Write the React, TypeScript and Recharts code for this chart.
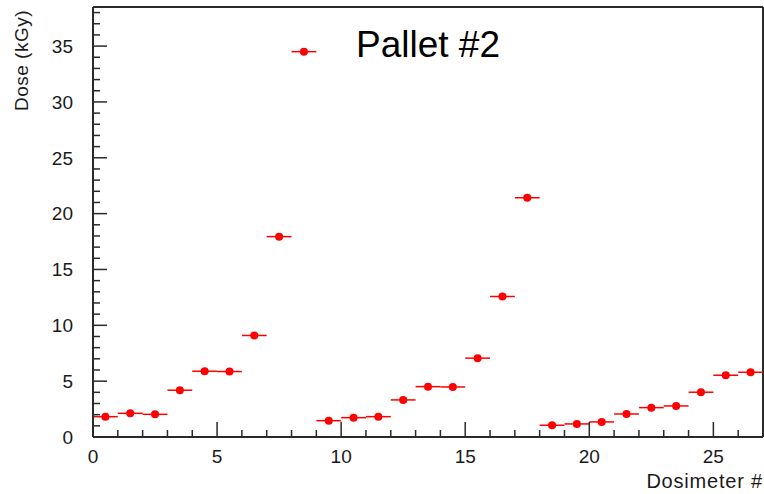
import React from 'react';
import { ScatterChart, Scatter, XAxis, YAxis, ErrorBar, ReferenceLine } from 'recharts';

// dosimeter bin centres and measured dose (kGy)
const dosimeterPos = [
  0.5, 1.5, 2.5, 3.5, 4.5, 5.5, 6.5, 7.5, 8.5,
  9.5, 10.5, 11.5, 12.5, 13.5, 14.5, 15.5, 16.5, 17.5,
  18.5, 19.5, 20.5, 21.5, 22.5, 23.5, 24.5, 25.5, 26.5,
];
const doseValues = [
  1.82, 2.12, 2.03, 4.19, 5.89, 5.86, 9.09, 17.94, 34.5,
  1.46, 1.73, 1.82, 3.32, 4.51, 4.48, 7.06, 12.58, 21.42,
  1.05, 1.17, 1.35, 2.06, 2.63, 2.78, 4.01, 5.53, 5.8,
];
const binHalfWidth = [
  0.5, 0.5, 0.5, 0.5, 0.5, 0.5, 0.5, 0.5, 0.5,
  0.5, 0.5, 0.5, 0.5, 0.5, 0.5, 0.5, 0.5, 0.5,
  0.5, 0.5, 0.5, 0.5, 0.5, 0.5, 0.5, 0.5, 0.5,
];
const xTicks = [0, 1, 2, 3, 4, 5, 6, 7, 8, 9, 10, 11, 12, 13, 14, 15, 16, 17, 18, 19, 20, 21, 22, 23, 24, 25, 26, 27];
const yTicks = [
  0, 1, 2, 3, 4, 5, 6, 7, 8, 9, 10, 11, 12, 13, 14, 15, 16, 17, 18, 19,
  20, 21, 22, 23, 24, 25, 26, 27, 28, 29, 30, 31, 32, 33, 34, 35, 36, 37, 38,
];
const xMax = 27;
const yMax = 38.5;

const points = dosimeterPos.map((x, i) => ({ x, y: doseValues[i], xErr: binHalfWidth[i] }));

const FONT = '"Liberation Sans", Arial, sans-serif';
const AXIS = '#2a2a2a';
const TEXT = '#1a1a1a';
const RED = '#ff0000';
const Y_MARGIN = 20;
const X_MARGIN = 10;

// ROOT style: ticks point into the frame, labels only on the major ones
function YTick(props: any) {
  const { x, y, payload } = props;
  const axisX = x + Y_MARGIN;
  const major = payload.value % 5 === 0;
  return (
    <g>
      <line x1={axisX} x2={axisX + (major ? 14 : 7)} y1={y} y2={y} stroke={AXIS} strokeWidth={1.5} />
      {major && (
        <text x={x} y={y} dy="0.36em" textAnchor="end" fontFamily={FONT} fontSize={19} fill={TEXT}>
          {payload.value}
        </text>
      )}
    </g>
  );
}

function XTick(props: any) {
  const { x, y, payload } = props;
  const axisY = y - X_MARGIN;
  const major = payload.value % 5 === 0;
  return (
    <g>
      <line x1={x} x2={x} y1={axisY} y2={axisY - (major ? 15 : 7)} stroke={AXIS} strokeWidth={1.5} />
      {major && (
        <text x={x} y={y} dy="0.85em" textAnchor="middle" fontFamily={FONT} fontSize={19} fill={TEXT}>
          {payload.value}
        </text>
      )}
    </g>
  );
}

export default function App() {
  return (
    <div style={{ position: 'absolute', left: 0, top: 0, width: 764, height: 494, background: '#fff' }}>
      <ScatterChart width={764} height={494} margin={{ top: 7, right: 1, bottom: 0, left: 0 }}>
        <XAxis
          type="number"
          dataKey="x"
          domain={[0, xMax]}
          ticks={xTicks}
          interval={0}
          tickSize={0}
          tickMargin={X_MARGIN}
          tickLine={false}
          tick={<XTick />}
          height={57}
          axisLine={{ stroke: AXIS, strokeWidth: 2 }}
          label={() => (
            <text x={763} y={488} textAnchor="end" fontFamily={FONT} fontSize={20} letterSpacing={0.8} fill={TEXT}>
              Dosimeter #
            </text>
          )}
        />
        <YAxis
          type="number"
          dataKey="y"
          domain={[0, yMax]}
          ticks={yTicks}
          interval={0}
          tickSize={0}
          tickMargin={Y_MARGIN}
          tickLine={false}
          tick={<YTick />}
          width={93}
          axisLine={{ stroke: AXIS, strokeWidth: 2 }}
          label={() => (
            <text
              x={28}
              y={10}
              transform="rotate(-90, 28, 10)"
              textAnchor="end"
              fontFamily={FONT}
              fontSize={19}
              letterSpacing={0.5}
              fill={TEXT}
            >
              Dose (kGy)
            </text>
          )}
        />
        <ReferenceLine
          y={yMax}
          stroke={AXIS}
          strokeWidth={2}
          label={() => (
            <text x={356} y={57} fontFamily={FONT} fontSize={37} fill="#000">
              Pallet #2
            </text>
          )}
        />
        <ReferenceLine x={xMax} stroke={AXIS} strokeWidth={2} />
        <Scatter
          data={points}
          dataKey="y"
          fill={RED}
          isAnimationActive={false}
          shape={(p: any) => <circle cx={p.cx} cy={p.cy} r={4} fill={RED} />}
        >
          <ErrorBar dataKey="xErr" direction="x" width={0} stroke={RED} strokeWidth={1.5} isAnimationActive={false} />
        </Scatter>
      </ScatterChart>
    </div>
  );
}
